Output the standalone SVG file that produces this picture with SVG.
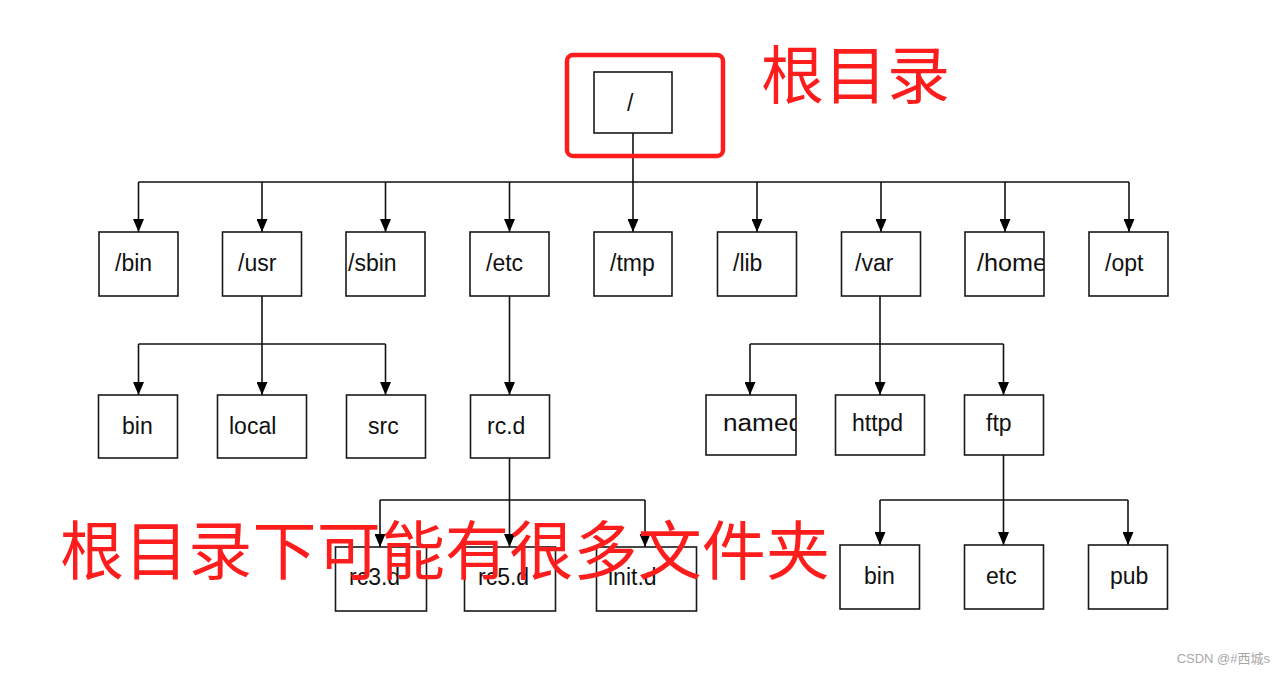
<svg xmlns="http://www.w3.org/2000/svg" width="1286" height="674" viewBox="0 0 1286 674">
<style>
.box{fill:#fff;stroke:#1a1a1a;stroke-width:1.6}
.lbl{font-family:"Liberation Sans",Arial,sans-serif;font-size:23px;fill:#111}
.ln{fill:none;stroke:#111;stroke-width:1.6}
.red{font-family:"Noto Sans CJK SC","Noto Sans",sans-serif;fill:#fd1d1d}
</style>
<defs>
<marker id="arr" markerUnits="userSpaceOnUse" markerWidth="13" markerHeight="11" viewBox="0 0 13 11" refX="13" refY="5.5" orient="auto">
<path d="M0,0 L13,5.5 L0,11 z" fill="#000"/>
</marker>
<clipPath id="cNamed"><rect x="706" y="395" width="90" height="60"/></clipPath>
<clipPath id="cHome"><rect x="965" y="232" width="79" height="64"/></clipPath>
</defs>
<rect width="1286" height="674" fill="#fff"/>

<g id="connectors">
<path class="ln" d="M633,133 V182 M138.5,182 H1129"/>
<path class="ln" marker-end="url(#arr)" d="M138.5,182 V232"/>
<path class="ln" marker-end="url(#arr)" d="M262,182 V232"/>
<path class="ln" marker-end="url(#arr)" d="M385.5,182 V232"/>
<path class="ln" marker-end="url(#arr)" d="M509.5,182 V232"/>
<path class="ln" marker-end="url(#arr)" d="M633,182 V232"/>
<path class="ln" marker-end="url(#arr)" d="M757,182 V232"/>
<path class="ln" marker-end="url(#arr)" d="M881,182 V232"/>
<path class="ln" marker-end="url(#arr)" d="M1005,182 V232"/>
<path class="ln" marker-end="url(#arr)" d="M1129,182 V232"/>

<path class="ln" d="M138.5,344 H385.5"/>
<path class="ln" marker-end="url(#arr)" d="M262,296 V395"/>
<path class="ln" marker-end="url(#arr)" d="M138.5,344 V395"/>
<path class="ln" marker-end="url(#arr)" d="M385.5,344 V395"/>
<path class="ln" marker-end="url(#arr)" d="M509.5,296 V395"/>

<path class="ln" d="M380,500 H645"/>
<path class="ln" marker-end="url(#arr)" d="M509.5,458 V547"/>
<path class="ln" marker-end="url(#arr)" d="M380,500 V547"/>
<path class="ln" marker-end="url(#arr)" d="M645,500 V547"/>

<path class="ln" d="M750,344 H1003.5"/>
<path class="ln" marker-end="url(#arr)" d="M880,296 V395"/>
<path class="ln" marker-end="url(#arr)" d="M750,344 V395"/>
<path class="ln" marker-end="url(#arr)" d="M1003.5,344 V395"/>

<path class="ln" d="M880,500 H1128"/>
<path class="ln" marker-end="url(#arr)" d="M1003.5,455 V545"/>
<path class="ln" marker-end="url(#arr)" d="M880,500 V545"/>
<path class="ln" marker-end="url(#arr)" d="M1128,500 V545"/>
</g>

<g id="n-root"><rect class="box" x="594" y="72" width="78" height="61"/><text class="lbl" x="627" y="111">/</text></g>
<g id="n-bin"><rect class="box" x="99" y="232" width="79" height="64"/><text class="lbl" x="115" y="271">/bin</text></g>
<g id="n-usr"><rect class="box" x="222.5" y="232" width="79" height="64"/><text class="lbl" x="238" y="271">/usr</text></g>
<g id="n-sbin"><rect class="box" x="346" y="232" width="79" height="64"/><text class="lbl" x="348" y="271">/sbin</text></g>
<g id="n-etc"><rect class="box" x="470" y="232" width="79" height="64"/><text class="lbl" x="486" y="271">/etc</text></g>
<g id="n-tmp"><rect class="box" x="594" y="232" width="78" height="64"/><text class="lbl" x="610" y="271">/tmp</text></g>
<g id="n-lib"><rect class="box" x="717.5" y="232" width="79" height="64"/><text class="lbl" x="733" y="271">/lib</text></g>
<g id="n-var"><rect class="box" x="841.5" y="232" width="79" height="64"/><text class="lbl" x="855" y="271">/var</text></g>
<g id="n-home"><rect class="box" x="965" y="232" width="79" height="64"/><text class="lbl" x="977" y="271" textLength="70" lengthAdjust="spacingAndGlyphs" clip-path="url(#cHome)">/home</text></g>
<g id="n-opt"><rect class="box" x="1089" y="232" width="79" height="64"/><text class="lbl" x="1105" y="271">/opt</text></g>

<g id="n-usr-bin"><rect class="box" x="98.5" y="395" width="79" height="63"/><text class="lbl" x="122" y="434">bin</text></g>
<g id="n-local"><rect class="box" x="217.5" y="395" width="89" height="63"/><text class="lbl" x="229" y="434">local</text></g>
<g id="n-src"><rect class="box" x="346.5" y="395" width="79" height="63"/><text class="lbl" x="368" y="434">src</text></g>
<g id="n-rcd"><rect class="box" x="470.5" y="395" width="79" height="63"/><text class="lbl" x="487" y="434">rc.d</text></g>

<g id="n-named"><rect class="box" x="706" y="395" width="90" height="60"/><text class="lbl" x="723" y="431" textLength="80" lengthAdjust="spacingAndGlyphs" clip-path="url(#cNamed)">named</text></g>
<g id="n-httpd"><rect class="box" x="835.5" y="395" width="89" height="60"/><text class="lbl" x="852" y="431">httpd</text></g>
<g id="n-ftp"><rect class="box" x="964.5" y="395" width="79" height="60"/><text class="lbl" x="986" y="431">ftp</text></g>

<g id="n-rc3d"><rect class="box" x="335.5" y="547" width="91" height="64"/><text class="lbl" x="349" y="585">rc3.d</text></g>
<g id="n-rc5d"><rect class="box" x="464.5" y="547" width="91" height="64"/><text class="lbl" x="478" y="585">rc5.d</text></g>
<g id="n-initd"><rect class="box" x="596.5" y="547" width="100" height="64"/><text class="lbl" x="608" y="585">init.d</text></g>

<g id="n-ftp-bin"><rect class="box" x="840" y="545" width="79.5" height="64"/><text class="lbl" x="864" y="584">bin</text></g>
<g id="n-ftp-etc"><rect class="box" x="964.5" y="545" width="79" height="64"/><text class="lbl" x="986" y="584">etc</text></g>
<g id="n-pub"><rect class="box" x="1088.5" y="545" width="79" height="64"/><text class="lbl" x="1110" y="584">pub</text></g>

<g id="highlight"><rect x="567" y="55" width="156" height="101" rx="6" fill="none" stroke="#fd1d1d" stroke-width="4.5"/></g>
<g id="annotations">
<text class="red" x="761" y="98" font-size="63">根目录</text>
<text class="red" x="60" y="574" font-size="64" textLength="770">根目录下可能有很多文件夹</text>
<text x="1270" y="663" text-anchor="end" font-family="'Liberation Sans','Noto Sans CJK SC',sans-serif" font-size="13" fill="#a8a8a8">CSDN @#西城s</text>
</g>
</svg>
